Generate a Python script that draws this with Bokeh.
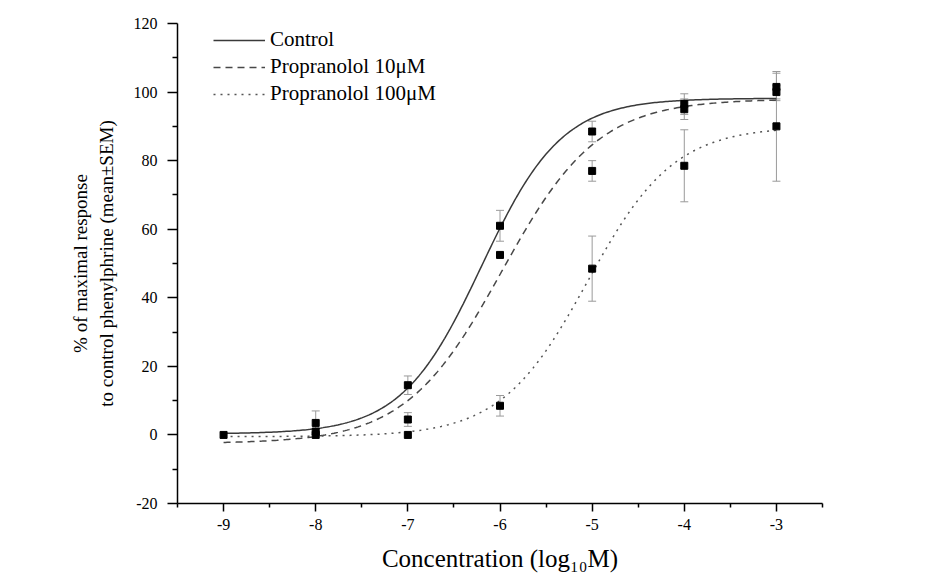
import numpy as np
from bokeh.plotting import figure
from bokeh.models import (Range1d, FixedTicker, CustomJSTickFormatter, Whisker,
                          ColumnDataSource, Legend, LegendItem, TeeHead)
from bokeh.embed import file_html
from bokeh.resources import INLINE

# ---------------- data ----------------
x_major_ticks = [-9, -8, -7, -6, -5, -4, -3]
x_minor_ticks = [-9.5, -8.5, -7.5, -6.5, -5.5, -4.5, -3.5, -2.5]
y_major_ticks = [-20, 0, 20, 40, 60, 80, 100, 120]
y_minor_ticks = [-10, 10, 30, 50, 70, 90, 110]

control_x = [-9, -8, -7, -6, -5, -4, -3]
control_y = [0.0, 3.5, 14.5, 61.0, 88.5, 96.5, 101.5]
control_err = [0.0, 3.5, 2.7, 4.5, 3.0, 3.0, 4.0]

p10_x = [-8, -7, -6, -5, -4, -3]
p10_y = [1.0, 4.5, 52.5, 77.0, 95.0, 100.0]
p10_err = [0.0, 2.0, 0.0, 3.0, 3.0, 2.0]

p100_x = [-8, -7, -6, -5, -4, -3]
p100_y = [0.0, 0.0, 8.5, 48.5, 78.5, 90.0]
p100_err = [0.0, 0.0, 3.0, 9.5, 10.5, 16.0]

# fitted sigmoid parameters: bottom, top, logEC50, hill
control_fit = [0.3, 98.2, -6.2, 1.0]
p10_fit = [-2.5, 98.0, -5.98, 0.83]
p100_fit = [-0.5, 90.0, -5.05, 0.925]

labels = ["Control", "Propranolol 10\u03bcM", "Propranolol 100\u03bcM"]

FONT = "Liberation Serif"

p = figure(width=938, height=578, output_backend="svg", toolbar_location=None,
           x_range=Range1d(-9.5, -2.5), y_range=Range1d(-20, 120),
           min_border_left=177, min_border_top=23, min_border_right=116,
           min_border_bottom=75)
p.outline_line_color = None
p.xgrid.visible = False
p.ygrid.visible = False
p.background_fill_color = "white"


def curve(fit):
    b, t, c, h = fit
    xs = np.linspace(-9.0, -3.0, 301)
    ys = b + (t - b) / (1.0 + 10.0 ** ((c - xs) * h))
    return xs, ys


curve_color = ["#3a3a3a", "#484848", "#555555"]
dashes = ["solid", "7 5", "2 5"]
renderers = []
for fit, col, dash in zip([control_fit, p10_fit, p100_fit], curve_color, dashes):
    xs, ys = curve(fit)
    r = p.line(xs, ys, line_color=col, line_width=1.5, line_dash=dash)
    renderers.append(r)

for xs, ys, es in [(control_x, control_y, control_err),
                   (p10_x, p10_y, p10_err),
                   (p100_x, p100_y, p100_err)]:
    wx = [x for x, e in zip(xs, es) if e > 0]
    wl = [y - e for y, e in zip(ys, es) if e > 0]
    wu = [y + e for y, e in zip(ys, es) if e > 0]
    src = ColumnDataSource(dict(x=wx, lower=wl, upper=wu))
    w = Whisker(base="x", lower="lower", upper="upper", source=src,
                line_color="#9a9a9a", line_width=1,
                upper_head=TeeHead(size=8, line_color="#9a9a9a", line_width=1),
                lower_head=TeeHead(size=8, line_color="#9a9a9a", line_width=1))
    p.add_layout(w)
    p.scatter(xs, ys, marker="square", size=7, fill_color="black", line_color="black")

legend = Legend(items=[LegendItem(label=l, renderers=[r]) for l, r in zip(labels, renderers)],
                location=(36, 397), padding=0, margin=0, spacing=2,
                glyph_width=52, glyph_height=22, label_height=22, label_standoff=5,
                border_line_color=None, background_fill_alpha=0,
                label_text_font=FONT, label_text_font_size="21px", label_text_color="black")
p.add_layout(legend, "center")

fmt = CustomJSTickFormatter(code="return String(tick)")
for ax in (p.xaxis[0], p.yaxis[0]):
    ax.formatter = fmt
    ax.axis_line_color = "black"
    ax.axis_line_width = 1.5
    ax.major_tick_line_color = "black"
    ax.major_tick_line_width = 1.5
    ax.minor_tick_line_color = "black"
    ax.minor_tick_line_width = 1.5
    ax.major_tick_in = 0
    ax.minor_tick_in = 0
    ax.major_label_text_font = FONT
    ax.major_label_text_font_size = "16px"
    ax.major_label_text_color = "black"
    ax.axis_label_text_font = FONT
    ax.axis_label_text_font_style = "normal"
    ax.axis_label_text_color = "black"

p.xaxis[0].ticker = FixedTicker(ticks=x_major_ticks, minor_ticks=x_minor_ticks)
p.yaxis[0].ticker = FixedTicker(ticks=y_major_ticks, minor_ticks=y_minor_ticks)

p.xaxis[0].major_tick_out = 8
p.xaxis[0].minor_tick_out = 4
p.xaxis[0].major_label_standoff = 7
p.xaxis[0].axis_label = "Concentration (log\u2081\u2080M)"
p.xaxis[0].axis_label_text_font_size = "25px"
p.xaxis[0].axis_label_standoff = 12

p.yaxis[0].major_tick_out = 10
p.yaxis[0].minor_tick_out = 5
p.yaxis[0].major_label_standoff = 10
p.yaxis[0].axis_label = "% of maximal response\nto control phenylphrine (mean\u00b1SEM)"
p.yaxis[0].axis_label_text_font_size = "19px"
p.yaxis[0].axis_label_standoff = 14

open("out.html", "w").write(file_html(p, INLINE))
